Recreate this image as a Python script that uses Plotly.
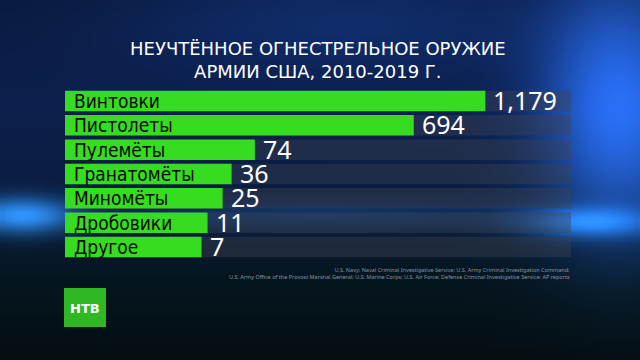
import base64, struct, zlib
import numpy as np
import plotly.graph_objects as go

# ---- data ----
categories = ["Винтовки", "Пистолеты", "Пулемёты", "Гранатомёты", "Миномёты", "Дробовики", "Другое"]
values = [1179, 694, 74, 36, 25, 11, 7]
value_labels = ["1,179", "694", "74", "36", "25", "11", "7"]
title_lines = ["НЕУЧТЁННОЕ ОГНЕСТРЕЛЬНОЕ ОРУЖИЕ", "АРМИИ США, 2010-2019 Г."]
source_lines = [
    "U.S. Navy; Naval Criminal Investigative Service; U.S. Army Criminal Investigation Command;",
    "U.S. Army Office of the Provost Marshal General; U.S. Marine Corps; U.S. Air Force; Defense Criminal Investigative Service; AP reports",
]

# ---- scale: square-root bar scale with a label pad ----
PAD = 12.6
XMAX = 56.5
bar_len = [PAD + np.sqrt(v) for v in values]

# ---- layout geometry (pixels) ----
FW, FH = 640, 360
ML, MR, MT, MB = 65, 69, 83, 93
PW, PH = FW - ML - MR, FH - MT - MB
def px(x):
    return (x - ML) / PW
def py(y):
    return (FH - MB - y) / PH

# ---- background image (decorative gradient) ----
W, H = 128, 72
yy, xx = np.mgrid[0:H, 0:W]
fx = xx / (W - 1)
fy = yy / (H - 1)
stops_y = [0.0, 0.3, 0.6, 0.78, 1.0]
cols = np.array([[10, 26, 62], [12, 32, 78], [10, 28, 58], [6, 22, 32], [4, 15, 18]], float)
img = np.zeros((H, W, 3))
for c in range(3):
    img[..., c] = np.interp(fy, stops_y, cols[:, c])
def glow(cx, cy, sx, sy, col, amp):
    g = np.exp(-(((fx - cx) / sx) ** 2 + ((fy - cy) / sy) ** 2))
    return g[..., None] * np.array(col, float)[None, None, :] * amp
img += glow(0.97, 0.3, 0.12, 0.35, [30, 80, 170], 1.0)
img += glow(0.55, 0.05, 0.35, 0.15, [10, 30, 70], 0.6)
img += glow(0.03, 0.6, 0.08, 0.05, [40, 130, 210], 0.9)
img += glow(0.92, 0.62, 0.1, 0.04, [30, 110, 190], 0.8)
img += glow(0.5, 0.6, 0.4, 0.04, [15, 45, 80], 0.6)
img = np.clip(img, 0, 255).astype(np.uint8)

def to_png(a):
    h, w, _ = a.shape
    raw = b"".join(b"\x00" + a[r].tobytes() for r in range(h))
    def chunk(t, d):
        return struct.pack(">I", len(d)) + t + d + struct.pack(">I", zlib.crc32(t + d) & 0xffffffff)
    return (b"\x89PNG\r\n\x1a\n" + chunk(b"IHDR", struct.pack(">IIBBBBB", w, h, 8, 2, 0, 0, 0))
            + chunk(b"IDAT", zlib.compress(raw, 9)) + chunk(b"IEND", b""))
bg_uri = "data:image/png;base64," + base64.b64encode(to_png(img)).decode()

GREEN = "#36dc1f"
FONT_LABEL = "DejaVu Sans Condensed, DejaVu Sans"
FONT_TITLE = "DejaVu Sans"
FONT_VALUE = "Noto Sans"

fig = go.Figure()
fig.add_trace(go.Bar(
    y=categories, x=[XMAX] * len(categories), orientation="h",
    marker=dict(color="rgba(62,66,82,0.42)", line=dict(width=0)),
    hoverinfo="skip", showlegend=False,
))
fig.add_trace(go.Bar(
    y=categories, x=bar_len, orientation="h",
    marker=dict(color=GREEN, line=dict(width=0)),
    showlegend=False,
))

annotations = []
for cat, L, lab in zip(categories, bar_len, value_labels):
    annotations.append(dict(x=0, y=cat, xref="x", yref="y", text=cat, showarrow=False,
                            xanchor="left", xshift=7, yshift=0,
                            font=dict(family=FONT_LABEL, size=19, color="#0a0a0a")))
    annotations.append(dict(x=L, y=cat, xref="x", yref="y", text=lab, showarrow=False,
                            xanchor="left", xshift=6, yshift=1,
                            font=dict(family=FONT_VALUE, size=25, color="white")))
annotations.append(dict(x=px(318), y=py(60), xref="paper", yref="paper",
                        text="<br>".join(title_lines), showarrow=False,
                        xanchor="center", yanchor="middle",
                        font=dict(family=FONT_TITLE, size=18, color="white")))
annotations.append(dict(x=px(572), y=py(273.5), xref="paper", yref="paper",
                        text="<br>".join(source_lines), showarrow=False, align="right",
                        xanchor="right", yanchor="middle",
                        font=dict(family="Noto Sans", size=5.5, color="#8a93a0")))
annotations.append(dict(x=px(85), y=py(308), xref="paper", yref="paper",
                        text="<b>НТВ</b>", showarrow=False, xanchor="center", yanchor="middle",
                        font=dict(family="DejaVu Sans", size=13, color="white")))

fig.update_layout(
    width=FW, height=FH,
    margin=dict(l=ML, r=MR, t=MT, b=MB),
    paper_bgcolor="#0b1c3c", plot_bgcolor="rgba(0,0,0,0)",
    barmode="overlay", bargap=0.16,
    xaxis=dict(range=[0, XMAX], visible=False, fixedrange=True),
    yaxis=dict(categoryorder="array", categoryarray=categories, autorange="reversed",
               visible=False, fixedrange=True),
    images=[dict(source=bg_uri, xref="paper", yref="paper", x=px(0), y=py(0),
                 sizex=FW / PW, sizey=FH / PH,
                 xanchor="left", yanchor="top", sizing="stretch", layer="below")],
    shapes=[dict(type="rect", xref="paper", yref="paper",
                 x0=px(64), x1=px(106), y0=py(327), y1=py(288),
                 fillcolor="#2fb824", line=dict(width=0))],
    annotations=annotations,
)
fig.write_html("out.html", post_script="document.body.style.margin='0';",
               config={"displayModeBar": False})
